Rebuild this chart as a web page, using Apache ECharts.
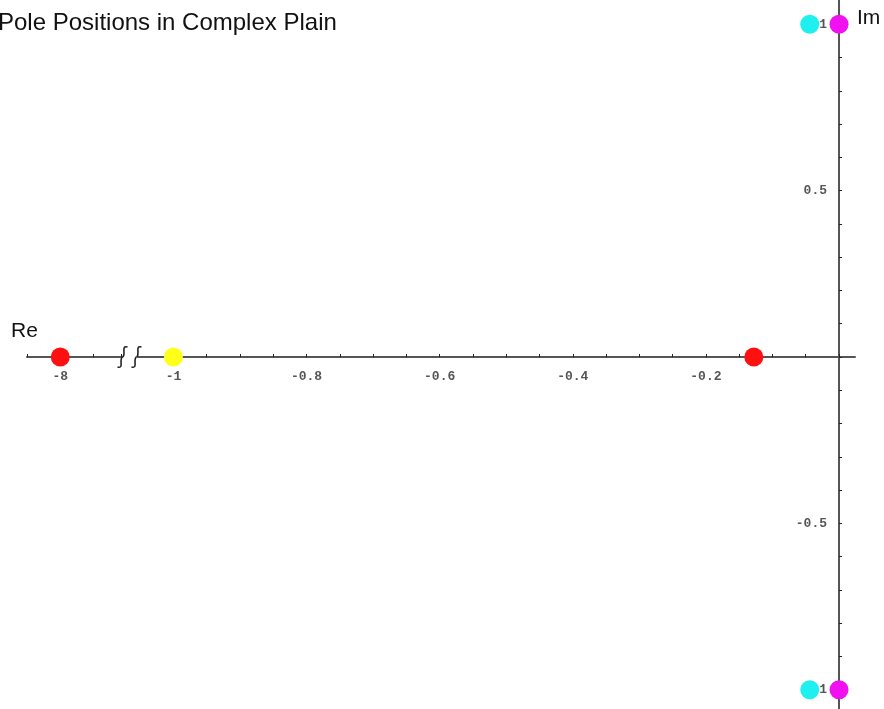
<!DOCTYPE html>
<html><head><meta charset="utf-8">
<script src="https://cdn.jsdelivr.net/npm/echarts@6/dist/echarts.min.js"></script>
<style>html,body{margin:0;padding:0;background:#fff}#c{width:884px;height:709px}</style>
</head><body><div id="c"></div>
<script>
// ---- data ----
const redPoles = [[-8, 0], [-0.128, 0]];
const yellowPoles = [[-1, 0]];
const cyanPoles = [[-0.044, 1], [-0.044, -1]];
const magentaPoles = [[0, 1], [0, -1]];
const xTickLabels = [-8, -1, -0.8, -0.6, -0.4, -0.2];
const yTickLabels = [1, 0.5, -0.5, -1];
const xBreak = { start: -7.908, end: -1.054, gap: 0.024 };

// ---- layout ----
const W = 884, H = 709;
const gridTop = -9, gridBottom = -14, gridLeft = 27, gridRight = 29;
const yMin = -1.1, yMax = 1.1;
const xMin = -8.05, xMax = 0.024;
const gridH = H - gridTop - gridBottom;
const zeroY = gridTop + gridH * (yMax - 0) / (yMax - yMin);
const xVisSpan = (xMax - xMin) - (xBreak.end - xBreak.start) + xBreak.gap;
const zeroXFromRight = (W - gridLeft - gridRight) * (xMax - 0) / xVisSpan;

const chart = echarts.init(document.getElementById('c'), null, { renderer: 'canvas' });
function fmt(list) {
  return function (v) {
    for (const t of list) if (Math.abs(v - t) < 1e-6) return Number.isInteger(t) ? String(t) : t.toFixed(1);
    return '';
  };
}
const labelStyle = { fontFamily: 'Liberation Mono', fontSize: 13, fontWeight: 'bold', color: '#555' };
const dot = (name, data, color) => ({
  name, type: 'scatter', data, symbolSize: 19, z: 10,
  itemStyle: { color, opacity: 1 }
});
chart.setOption({
  animation: false,
  title: { text: 'Pole Positions in Complex Plain', left: -2, top: 11, padding: 0,
    textStyle: { fontFamily: 'Liberation Sans', fontSize: 24, fontWeight: 'normal', color: '#111' } },
  grid: { left: gridLeft, right: gridRight, top: gridTop, bottom: gridBottom, containLabel: false, outerBoundsMode: 'none' },
  xAxis: {
    type: 'value', min: xMin, max: xMax, interval: 0.05,
    position: 'top', offset: -(zeroY - gridTop),
    breaks: [xBreak],
    breakArea: { show: false },
    axisLine: { onZero: false, lineStyle: { color: '#555', width: 2 } },
    axisTick: { show: true, inside: false, length: 3, lineStyle: { color: '#222', width: 1 } },
    axisLabel: Object.assign({ formatter: fmt(xTickLabels), inside: true, margin: 13, showMinLabel: true, showMaxLabel: false, hideOverlap: false }, labelStyle),
    splitLine: { show: false }
  },
  yAxis: {
    type: 'value', min: yMin, max: yMax, interval: 0.1,
    position: 'right', offset: -zeroXFromRight,
    axisLine: { onZero: false, lineStyle: { color: '#555', width: 2 } },
    axisTick: { show: true, inside: false, length: 3, lineStyle: { color: '#222', width: 1 } },
    axisLabel: Object.assign({ formatter: fmt(yTickLabels), inside: true, margin: 12, showMinLabel: false, showMaxLabel: false }, labelStyle),
    splitLine: { show: false }
  },
  series: [
    dot('red', redPoles, '#ff1010'),
    dot('yellow', yellowPoles, '#ffff1a'),
    dot('cyan', cyanPoles, '#1ef0f0'),
    dot('magenta', magentaPoles, '#f010f0')
  ]
});
// decorations: axis names and break squiggles
const o = chart.convertToPixel({ xAxisIndex: 0, yAxisIndex: 0 }, [0, 1]);
const s1 = chart.convertToPixel({ xAxisIndex: 0, yAxisIndex: 0 }, [xBreak.start, 0]);
const s2 = chart.convertToPixel({ xAxisIndex: 0, yAxisIndex: 0 }, [xBreak.end, 0]);
const sq = (cx, y) => ([
  { type: 'bezierCurve', z: 20, shape: { x1: cx + 5, y1: y - 10, cpx1: cx - 2, cpy1: y - 12, cpx2: cx + 4, cpy2: y - 2, x2: cx, y2: y },
    style: { fill: null, stroke: '#222', lineWidth: 1.6 } },
  { type: 'bezierCurve', z: 20, shape: { x1: cx, y1: y, cpx1: cx - 4, cpy1: y + 2, cpx2: cx + 2, cpy2: y + 12, x2: cx - 5, y2: y + 10 },
    style: { fill: null, stroke: '#222', lineWidth: 1.6 } }
]);
chart.setOption({
  graphic: [
    ...sq(s1[0] + 1, zeroY), ...sq(s2[0] - 1, zeroY),
    { type: 'text', left: 11, top: zeroY - 36, style: { text: 'Re', font: '21px "Liberation Sans"', fill: '#111' } },
    { type: 'text', left: o[0] + 18, top: o[1] - 17, style: { text: 'Im', font: '21px "Liberation Sans"', fill: '#111' } }
  ]
});
</script></body></html>
